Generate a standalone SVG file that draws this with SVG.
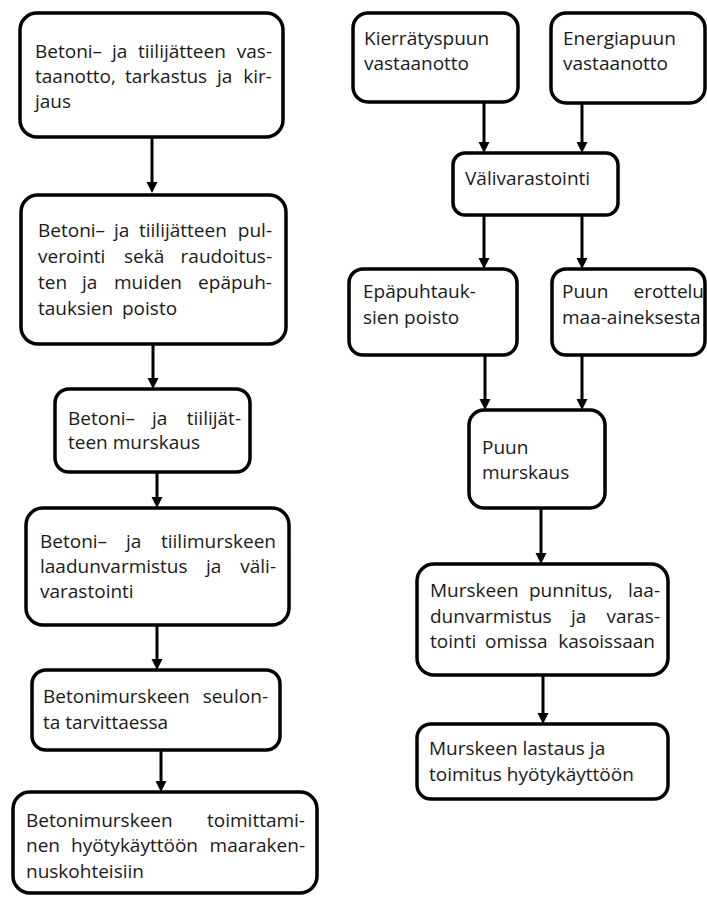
<svg xmlns="http://www.w3.org/2000/svg" width="707" height="897" viewBox="0 0 707 897">
<style>
.box{fill:#fff;stroke:#000;stroke-width:3.5}
text{font-family:"Open Sans","Liberation Sans",sans-serif;font-size:19px;fill:#1a1a1a}
.e{text-anchor:end}
.arr{stroke:#000;stroke-width:3;fill:none;marker-end:url(#ah)}
</style>
<defs>
<marker id="ah" markerUnits="userSpaceOnUse" markerWidth="12" markerHeight="12" refX="2" refY="5.5" orient="auto">
<path d="M0,0 L11,5.5 L0,11 z" fill="#000"/>
</marker>
</defs>
<rect width="707" height="897" fill="#fff"/>
<g id="connectors">
<line class="arr" x1="152" y1="137" x2="152" y2="184"/>
<line class="arr" x1="153" y1="344" x2="153" y2="380"/>
<line class="arr" x1="157" y1="472" x2="157" y2="499"/>
<line class="arr" x1="157" y1="625" x2="157" y2="661"/>
<line class="arr" x1="161" y1="750" x2="161" y2="783"/>
<line class="arr" x1="484" y1="102" x2="484" y2="144"/>
<line class="arr" x1="582" y1="103" x2="582" y2="144"/>
<line class="arr" x1="484" y1="215" x2="484" y2="260"/>
<line class="arr" x1="582" y1="215" x2="582" y2="260"/>
<line class="arr" x1="485" y1="355" x2="485" y2="401"/>
<line class="arr" x1="582" y1="355" x2="582" y2="401"/>
<line class="arr" x1="541" y1="508" x2="541" y2="555"/>
<line class="arr" x1="543" y1="675" x2="543" y2="715"/>
</g>
<g id="n1">
<rect class="box" x="20" y="13" width="263" height="124" rx="17"/>
<text y="58"><tspan x="35">Betoni–</tspan><tspan x="112">ja</tspan><tspan x="138">tiilijätteen</tspan></text>
<text class="e" x="272" y="58">vas-</text>
<text y="83"><tspan x="35">taanotto,</tspan><tspan x="125">tarkastus</tspan><tspan x="217">ja</tspan></text>
<text class="e" x="272" y="83">kir-</text>
<text x="35" y="108">jaus</text>
</g>
<g id="n2">
<rect class="box" x="21" y="195" width="265" height="149" rx="17"/>
<text y="237"><tspan x="38">Betoni–</tspan><tspan x="114">ja</tspan><tspan x="139">tiilijätteen</tspan></text>
<text class="e" x="272" y="237">pul-</text>
<text y="263"><tspan x="38">verointi</tspan><tspan x="124">sekä</tspan></text>
<text class="e" x="272" y="263">raudoitus-</text>
<text y="289"><tspan x="38">ten</tspan><tspan x="82">ja</tspan><tspan x="114">muiden</tspan></text>
<text class="e" x="272" y="289">epäpuh-</text>
<text y="315"><tspan x="38">tauksien</tspan><tspan x="122">poisto</tspan></text>
</g>
<g id="n3">
<rect class="box" x="55" y="389" width="195" height="83" rx="14"/>
<text y="425"><tspan x="68">Betoni–</tspan><tspan x="152">ja</tspan></text>
<text class="e" x="241" y="425">tiilijät-</text>
<text x="68" y="449">teen murskaus</text>
</g>
<g id="n4">
<rect class="box" x="26" y="508" width="263" height="117" rx="17"/>
<text y="548"><tspan x="40">Betoni–</tspan><tspan x="126">ja</tspan></text>
<text class="e" x="276" y="548">tiilimurskeen</text>
<text y="573"><tspan x="40">laadunvarmistus</tspan><tspan x="206">ja</tspan></text>
<text class="e" x="276" y="573">väli-</text>
<text x="40" y="598">varastointi</text>
</g>
<g id="n5">
<rect class="box" x="32" y="670" width="248" height="80" rx="14"/>
<text x="43" y="703">Betonimurskeen</text>
<text class="e" x="268" y="703">seulon-</text>
<text x="43" y="729">ta tarvittaessa</text>
</g>
<g id="n6">
<rect class="box" x="13" y="792" width="304" height="101" rx="17"/>
<text x="26" y="827">Betonimurskeen</text>
<text class="e" x="305" y="827">toimittami-</text>
<text y="852"><tspan x="26">nen</tspan><tspan x="71">hyötykäyttöön</tspan></text>
<text class="e" x="305" y="852">maaraken-</text>
<text x="26" y="878">nuskohteisiin</text>
</g>
<g id="n7">
<rect class="box" x="353" y="13" width="165" height="89" rx="15"/>
<text x="364" y="45">Kierrätyspuun</text>
<text x="364" y="70">vastaanotto</text>
</g>
<g id="n8">
<rect class="box" x="551" y="13" width="154" height="90" rx="15"/>
<text x="563" y="45">Energiapuun</text>
<text x="563" y="70">vastaanotto</text>
</g>
<g id="n9">
<rect class="box" x="453" y="153" width="165" height="62" rx="12"/>
<text x="465" y="185">Välivarastointi</text>
</g>
<g id="n10">
<rect class="box" x="349" y="269" width="168" height="86" rx="14"/>
<text x="363" y="298">Epäpuhtauk-</text>
<text x="363" y="324">sien poisto</text>
</g>
<g id="n11">
<rect class="box" x="552" y="269" width="153" height="86" rx="14"/>
<text x="562" y="298">Puun</text>
<text class="e" x="704" y="298">erottelu</text>
<text x="562" y="324">maa-aineksesta</text>
</g>
<g id="n12">
<rect class="box" x="469" y="410" width="136" height="98" rx="15"/>
<text x="482" y="454">Puun</text>
<text x="482" y="479">murskaus</text>
</g>
<g id="n13">
<rect class="box" x="417" y="564" width="251" height="111" rx="17"/>
<text y="597"><tspan x="430">Murskeen</tspan><tspan x="529">punnitus,</tspan></text>
<text class="e" x="660" y="597">laa-</text>
<text y="623"><tspan x="430">dunvarmistus</tspan><tspan x="571">ja</tspan></text>
<text class="e" x="660" y="623">varas-</text>
<text y="648"><tspan x="430">tointi</tspan><tspan x="485">omissa</tspan></text>
<text class="e" x="655" y="648">kasoissaan</text>
</g>
<g id="n14">
<rect class="box" x="417" y="724" width="251" height="75" rx="14"/>
<text x="429" y="755">Murskeen lastaus ja</text>
<text x="429" y="781">toimitus hyötykäyttöön</text>
</g>
</svg>
